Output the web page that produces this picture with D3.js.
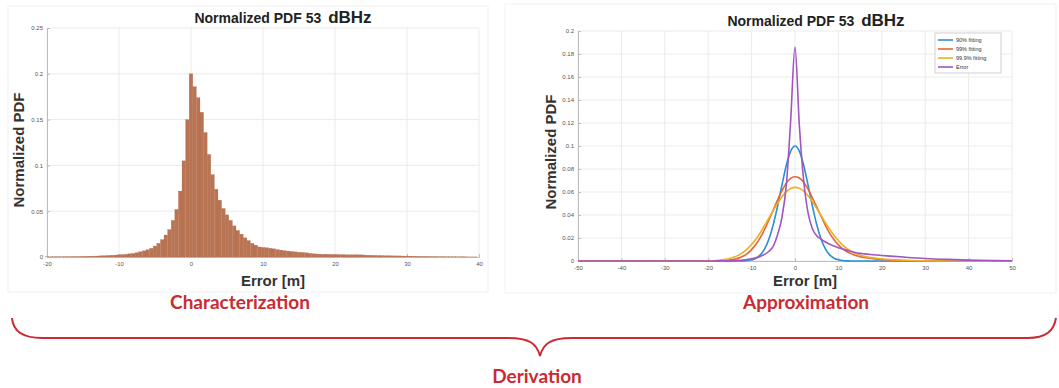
<!DOCTYPE html>
<html>
<head>
<meta charset="utf-8">
<script src="https://cdn.jsdelivr.net/npm/d3@7"></script>
<style>
  html, body { margin: 0; padding: 0; background: #fff; }
  svg { display: block; }
</style>
</head>
<body>
<svg id="chart" width="1059" height="388"></svg>
<script>
// ---------------- DATA ----------------
const chartTitle = "Normalized PDF 53";
const chartTitleUnit = "dBHz";
const yLabel = "Normalized PDF";
const xLabel = "Error [m]";

// Left: histogram of error, bin centres every 0.5 m from -20 to 39.5
const histStart = -20, histEnd = 40, histStep = 0.5;
const histValues = [
  0.0002,0.0002,0.0003,0.0003,0.0003,0.0004,0.0004,0.0005,0.0005,0.0006,
  0.0007,0.0008,0.0009,0.0010,0.0011,0.0013,0.0015,0.0017,0.0019,0.0021,
  0.0024,0.0027,0.0030,0.0035,0.0040,0.0048,0.0058,0.0068,0.0080,0.0095,
  0.0120,0.0150,0.0190,0.0240,0.0300,0.0400,0.0520,0.0720,0.1050,0.1500,
  0.2000,0.1860,0.1740,0.1580,0.1360,0.1120,0.0900,0.0740,0.0620,0.0530,
  0.0460,0.0400,0.0340,0.0290,0.0250,0.0210,0.0180,0.0150,0.0130,0.0110,
  0.0105,0.0102,0.0095,0.0090,0.0082,0.0075,0.0070,0.0065,0.0060,0.0056,
  0.0052,0.0050,0.0046,0.0040,0.0036,0.0033,0.0031,0.0030,0.0030,0.0029,
  0.0028,0.0027,0.0026,0.0025,0.0024,0.0024,0.0025,0.0024,0.0022,0.0020,
  0.0019,0.0018,0.0017,0.0016,0.0015,0.0014,0.0013,0.0012,0.0012,0.0011,
  0.0010,0.0010,0.0009,0.0008,0.0007,0.0007,0.0006,0.0005,0.0005,0.0004,
  0.0004,0.0003,0.0003,0.0003,0.0002,0.0002,0.0002,0.0001,0.0001,0.0001
];
const histXTicks = [-20,-10,0,10,20,30,40];
const histYTicks = [0,0.05,0.1,0.15,0.2,0.25];

// Right: fitted PDFs and error PDF
const fitX = [-50,-40,-30,-25,-20,-18,-16,
  -15,-14,-13,-12,-11,-10,-9,-8,-7,-6,-5,-4,-3,-2,-1,0,1,2,3,4,5,6,7,8,9,10,11,12,13,14,15,
  16,18,20,22,25,30,35,40,45,50];
const fit90 = [0,0,0,0,0,0,0,
  0,0,0,0.0001,0.0004,0.0010,0.0024,0.0053,0.0106,0.0192,0.0318,0.0480,0.0662,0.0832,0.0955,0.1000,
  0.0955,0.0832,0.0662,0.0480,0.0318,0.0192,0.0106,0.0053,0.0024,0.0010,0.0004,0.0001,0,0,0,
  0,0,0,0,0,0,0,0,0,0];
const fit99 = [0,0,0,0,0,0.0001,0.0004,
  0.0008,0.0015,0.0025,0.0041,0.0065,0.0099,0.0145,0.0204,0.0275,0.0358,0.0445,0.0531,0.0611,0.0677,0.0719,0.0733,
  0.0722,0.0685,0.0625,0.0550,0.0470,0.0390,0.0310,0.0240,0.0185,0.0140,0.0105,0.0080,0.0062,0.0048,0.0038,
  0.0030,0.0020,0.0013,0.0008,0.0004,0.0001,0,0,0,0];
const fit999 = [0,0,0,0,0.0002,0.0005,0.0014,
  0.0022,0.0034,0.0051,0.0075,0.0105,0.0144,0.0190,0.0246,0.0309,0.0374,0.0440,0.0502,0.0558,0.0603,0.0630,0.0640,
  0.0632,0.0608,0.0568,0.0517,0.0458,0.0396,0.0334,0.0276,0.0222,0.0176,0.0138,0.0107,0.0083,0.0064,0.0050,
  0.0040,0.0027,0.0018,0.0012,0.0006,0.0002,0,0,0,0];
const errorPdf = [0,0,0,0,0,0.0001,0.0002,
  0.0003,0.0004,0.0006,0.0009,0.0013,0.0019,0.0028,0.0040,0.0058,0.0085,0.0130,0.0230,0.0380,0.0660,0.1220,0.1860,
  0.1180,0.0700,0.0420,0.0280,0.0220,0.0190,0.0165,0.0145,0.0130,0.0116,0.0104,0.0093,0.0082,0.0072,0.0066,
  0.0062,0.0055,0.0048,0.0042,0.0034,0.0022,0.0014,0.0008,0.0004,0.0002];
const seriesNames = ["90% fitting","99% fitting","99.9% fitting","Error"];
const fitXTicks = [-50,-40,-30,-20,-10,0,10,20,30,40,50];
const fitYTicks = [0,0.02,0.04,0.06,0.08,0.1,0.12,0.14,0.16,0.18,0.2];

const bottomLabels = ["Characterization","Approximation"];
const braceLabel = "Derivation";

// ---------------- STYLE ----------------
const colors = ["#2b8fd3","#e2663a","#edb021","#a154c2"];
const histFill = "#b97453";
const red = "#cc2a30";
const gridColor = "#ebebeb";
const tickColor = "#555";
const font = "Liberation Sans, Arial, sans-serif";

const svg = d3.select("#chart");

// faint panel frames
svg.append("rect").attr("x",8).attr("y",6).attr("width",480).attr("height",286)
  .attr("fill","none").attr("stroke","#f1f1f1");
svg.append("rect").attr("x",505).attr("y",4).attr("width",551).attr("height",289)
  .attr("fill","none").attr("stroke","#f1f1f1");

const numFmt = d => d3.format("~g")(d).replace("\u2212", "-");

function drawAxes(g, x, y, xTicks, yTicks) {
  g.append("g").selectAll("line").data(xTicks).join("line")
    .attr("x1", d => x(d)).attr("x2", d => x(d))
    .attr("y1", y.range()[0]).attr("y2", y.range()[1])
    .attr("stroke", gridColor).attr("stroke-width", 1);
  g.append("g").selectAll("line").data(yTicks).join("line")
    .attr("x1", x.range()[0]).attr("x2", x.range()[1])
    .attr("y1", d => y(d)).attr("y2", d => y(d))
    .attr("stroke", gridColor).attr("stroke-width", 1);

  const ax = g.append("g").attr("transform", `translate(0,${y.range()[0]})`)
    .call(d3.axisBottom(x).tickValues(xTicks).tickSize(-3).tickPadding(5).tickFormat(numFmt));
  const ay = g.append("g").attr("transform", `translate(${x.range()[0]},0)`)
    .call(d3.axisLeft(y).tickValues(yTicks).tickSize(-3).tickPadding(4).tickFormat(numFmt));
  [ax, ay].forEach(a => {
    a.select(".domain").attr("stroke", "#bdbdbd");
    a.selectAll(".tick line").attr("stroke", "#bdbdbd");
    a.selectAll("text").attr("fill", tickColor).attr("font-size", "6px").attr("font-family", font);
  });
}

function titles(g, cx, titleY, xLabelX, xLabelY, yLabelX, yLabelY) {
  const t = g.append("text").attr("x", cx).attr("y", titleY).attr("text-anchor", "middle")
    .attr("font-family", font).attr("fill", "#222");
  t.append("tspan").attr("font-weight", "bold").attr("font-size", "14px").text(chartTitle + " ");
  t.append("tspan").attr("font-size", "17px").attr("font-weight", "bold").attr("dx", 3).text(chartTitleUnit);
  g.append("text").attr("x", xLabelX).attr("y", xLabelY).attr("text-anchor", "middle")
    .attr("font-family", font).attr("font-weight", "bold")
    .attr("font-size", "15px").attr("fill", "#333").text(xLabel);
  g.append("text").attr("transform", `translate(${yLabelX},${yLabelY}) rotate(-90)`)
    .attr("text-anchor", "middle")
    .attr("font-family", font).attr("font-weight", "bold")
    .attr("font-size", "15px").attr("fill", "#333").text(yLabel);
}

// ---------------- LEFT: histogram ----------------
const gL = svg.append("g");
const xL = d3.scaleLinear().domain([histStart, histEnd]).range([47, 479]);
const yL = d3.scaleLinear().domain([0, 0.25]).range([257, 28]);
drawAxes(gL, xL, yL, histXTicks, histYTicks);
const binCentres = d3.range(histStart, histEnd, histStep);
const binW = xL(histStart + histStep) - xL(histStart);
gL.append("g").selectAll("rect").data(histValues).join("rect")
  .attr("x", (d, i) => xL(binCentres[i]) - binW / 2)
  .attr("width", binW)
  .attr("y", d => yL(d))
  .attr("height", d => yL(0) - yL(d))
  .attr("fill", histFill)
  .attr("stroke", "#b06a4a").attr("stroke-width", 0.2);
titles(gL, 283, 23, 273, 286, 24, 150);

// ---------------- RIGHT: fitted curves ----------------
const gR = svg.append("g");
const xR = d3.scaleLinear().domain([-50, 50]).range([578, 1012]);
const yR = d3.scaleLinear().domain([0, 0.2]).range([261, 31]);
drawAxes(gR, xR, yR, fitXTicks, fitYTicks);
const allSeries = [fit90, fit99, fit999, errorPdf];
const line = d3.line().x((d, i) => xR(fitX[i])).y(d => yR(d)).curve(d3.curveMonotoneX);
gR.append("g").selectAll("path").data(allSeries).join("path")
  .attr("d", d => line(d))
  .attr("fill", "none")
  .attr("stroke", (d, i) => colors[i])
  .attr("stroke-width", 1.6)
  .attr("stroke-linejoin", "round");
titles(gR, 816, 26, 805, 286, 556, 152);

// legend
const lg = gR.append("g").attr("transform", "translate(935,33)");
lg.append("rect").attr("width", 66).attr("height", 40).attr("fill", "#fff").attr("stroke", "#cfcfcf");
seriesNames.forEach((name, i) => {
  const yy = 7 + i * 9;
  lg.append("line").attr("x1", 3).attr("x2", 18).attr("y1", yy).attr("y2", yy)
    .attr("stroke", colors[i]).attr("stroke-width", 1.6);
  lg.append("text").attr("x", 21).attr("y", yy + 2).attr("font-size", "5.5px")
    .attr("font-family", font).attr("fill", "#333").text(name);
});

// ---------------- bottom labels and brace ----------------
const labelFont = "Lato, 'Open Sans', sans-serif";
svg.append("text").attr("x", 240).attr("y", 309).attr("text-anchor", "middle")
  .attr("font-family", labelFont).attr("font-weight", "bold").attr("font-size", "19px")
  .attr("fill", red).text(bottomLabels[0]);
svg.append("text").attr("x", 806).attr("y", 309).attr("text-anchor", "middle")
  .attr("font-family", labelFont).attr("font-weight", "bold").attr("font-size", "19px")
  .attr("fill", red).text(bottomLabels[1]);
svg.append("path")
  .attr("d", "M12,318 C13,331 22,338 42,338 L508,338 C530,338 537,344 540,356 C543,344 550,338 572,338 L1028,338 C1046,338 1054,331 1056,318")
  .attr("fill", "none").attr("stroke", red).attr("stroke-width", 2);
svg.append("text").attr("x", 537).attr("y", 383).attr("text-anchor", "middle")
  .attr("font-family", labelFont).attr("font-weight", "bold").attr("font-size", "19px")
  .attr("fill", red).text(braceLabel);
</script>
</body>
</html>
